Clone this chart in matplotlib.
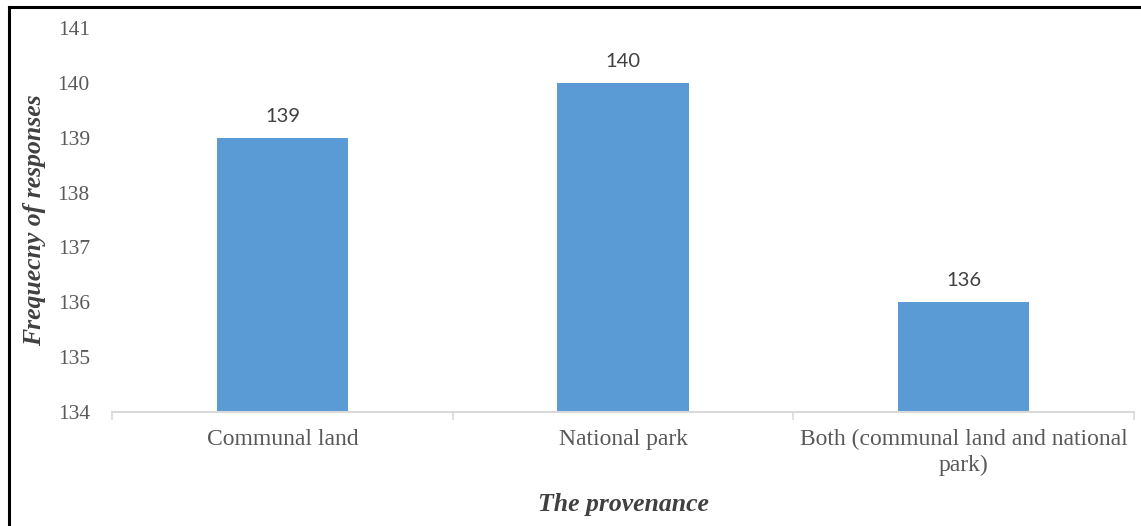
import matplotlib
matplotlib.use("Agg")
import matplotlib.pyplot as plt
from matplotlib.lines import Line2D

# данные с графика
categories = ['Communal land', 'National park', 'Both (communal land and national\npark)']
responses = [139, 140, 136]
y_ticks = [134, 135, 136, 137, 138, 139, 140, 141]

bar_color = '#5B9BD5'
text_gray = '#595959'
serif = 'Liberation Serif'

fig = plt.figure(figsize=(11.41, 5.26), dpi=100)
ax = fig.add_axes([0.0982, 0.2167, 0.8957, 0.7301])

x = range(len(categories))
bars = ax.bar(x, responses, width=0.385, color=bar_color, bottom=0)
ax.set_ylim(134, 141)
ax.set_xlim(-0.5, len(categories) - 0.5)
for b in bars:
    b.set_y(134)
    b.set_height(b.get_height() - 134)

# подписи значений
for xi, v in zip(x, responses):
    ax.text(xi, v + 0.24, str(v), ha='center', va='bottom', fontsize=14.5,
            family='Lato', color='#404040')

ax.set_yticks(y_ticks)
ax.set_yticklabels([str(t) for t in y_ticks], family=serif, fontsize=15.5, color=text_gray)
ax.tick_params(axis='y', length=0, pad=16)

ax.set_xticks(list(x))
ax.set_xticklabels(categories, family=serif, fontsize=17, color=text_gray, linespacing=1.3)
ax.tick_params(axis='x', which='major', length=0, pad=12)
ax.set_xticks([-0.5, 0.5, 1.5, 2.5], minor=True)
ax.tick_params(axis='x', which='minor', length=6, width=1.2, color='#D9D9D9', direction='out')

for side in ['left', 'right', 'top']:
    ax.spines[side].set_visible(False)
ax.spines['bottom'].set_color('#D9D9D9')
ax.spines['bottom'].set_linewidth(1.5)

fig.text(0.0307, 0.582, 'Frequecny of responses', rotation=90, ha='center', va='center',
         family=serif, fontsize=18.5, fontweight='bold', style='italic', color='#404040')
fig.text(0.546, 0.040, 'The provenance', ha='center', va='center',
         family=serif, fontsize=18.5, fontweight='bold', style='italic', color='#404040')

# рамка вокруг рисунка (видны только левая и верхняя стороны)
fig.add_artist(Line2D([9 / 1141, 9 / 1141], [0, 1 - 7 / 526], transform=fig.transFigure,
                      color='black', linewidth=2.2))
fig.add_artist(Line2D([9 / 1141, 1], [1 - 7 / 526, 1 - 7 / 526], transform=fig.transFigure,
                      color='black', linewidth=2.2))

fig.savefig('out.png', dpi=100)
